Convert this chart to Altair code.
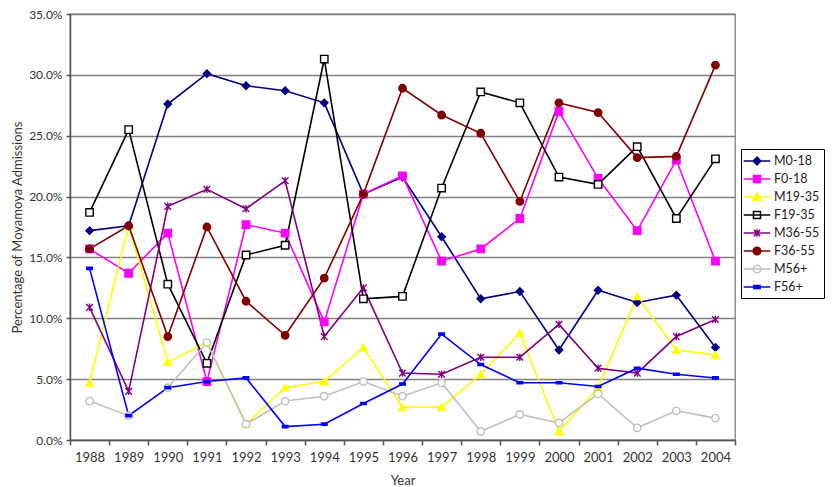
import altair as alt
import pandas as pd

years = [str(y) for y in range(1988, 2005)]
series = ["M0-18", "F0-18", "M19-35", "F19-35", "M36-55", "F36-55", "M56+", "F56+"]

m0_18 = [17.2, 17.6, 27.6, 30.1, 29.1, 28.7, 27.7, 20.2, 21.6, 16.7, 11.6, 12.2, 7.4, 12.3, 11.3, 11.9, 7.6]
f0_18 = [15.7, 13.7, 17.0, 4.8, 17.7, 17.0, 9.7, 20.2, 21.7, 14.7, 15.7, 18.2, 27.0, 21.5, 17.2, 23.0, 14.7]
m19_35 = [4.7, 17.6, 6.4, 8.0, 1.3, 4.3, 4.8, 7.6, 2.7, 2.7, 5.4, 8.8, 0.7, 4.3, 11.8, 7.4, 7.0]
f19_35 = [18.7, 25.5, 12.8, 6.3, 15.2, 16.0, 31.3, 11.6, 11.8, 20.7, 28.6, 27.7, 21.6, 21.0, 24.1, 18.2, 23.1]
m36_55 = [10.9, 4.0, 19.2, 20.6, 19.0, 21.3, 8.5, 12.5, 5.5, 5.4, 6.8, 6.8, 9.5, 5.9, 5.5, 8.5, 9.9]
f36_55 = [15.7, 17.6, 8.5, 17.5, 11.4, 8.6, 13.3, 20.2, 28.9, 26.7, 25.2, 19.6, 27.7, 26.9, 23.2, 23.3, 30.8]
m56 = [3.2, 2.0, 4.3, 8.0, 1.3, 3.2, 3.6, 4.8, 3.6, 4.7, 0.7, 2.1, 1.4, 3.8, 1.0, 2.4, 1.8]
f56 = [14.1, 2.0, 4.3, 4.8, 5.1, 1.1, 1.3, 3.0, 4.6, 8.7, 6.2, 4.7, 4.7, 4.4, 5.9, 5.4, 5.1]

all_values = [m0_18, f0_18, m19_35, f19_35, m36_55, f36_55, m56, f56]

stroke_colors = ["#000080", "#FF00FF", "#FFFF00", "#000000", "#800080", "#800000", "#C0C0C0", "#0000FF"]
fill_colors = ["#000080", "#FF00FF", "#FFFF00", "#FFFFFF", "#800080", "#800000", "#FFFFFF", "#0000FF"]

rows = []
for s, vals in zip(series, all_values):
    for y, v in zip(years, vals):
        rows.append({"Year": y, "series": s, "pct": v / 100.0})
df = pd.DataFrame(rows)

# plot marker shapes
asterisk = "M-0.9,-0.9L0.9,0.9M-0.9,0.9L0.9,-0.9M0,-1L0,1"
dash = "M-0.75,-0.3L0.75,-0.3L0.75,0.3L-0.75,0.3Z"
plot_shapes = ["diamond", "square", "triangle-up", "square", asterisk, "circle", "circle", dash]

# legend symbols: line + marker
L = "M-1.9,0L1.9,0"
leg_shapes = [
    L + "M0,-0.55L0.55,0L0,0.55L-0.55,0Z",
    L + "M-0.5,-0.5L0.5,-0.5L0.5,0.5L-0.5,0.5Z",
    L + "M0,-0.6L0.6,0.45L-0.6,0.45Z",
    L + "M-0.5,-0.5L0.5,-0.5L0.5,0.5L-0.5,0.5Z",
    L + "M-0.45,-0.45L0.45,0.45M-0.45,0.45L0.45,-0.45M0,-0.55L0,0.55",
    L + "M0.55,0A0.55,0.55,0,1,1,-0.55,0A0.55,0.55,0,1,1,0.55,0Z",
    L + "M0.55,0A0.55,0.55,0,1,1,-0.55,0A0.55,0.55,0,1,1,0.55,0Z",
    L + "M-0.45,-0.2L0.45,-0.2L0.45,0.2L-0.45,0.2Z",
]

x_enc = alt.X(
    "Year:O",
    scale=alt.Scale(type="band", paddingInner=0, paddingOuter=0),
    bandPosition=0.5,
    axis=alt.Axis(
        title="Year", labelAngle=0, tickBand="extent", grid=False,
        labelFontSize=13, labelColor="#333333", titleFontSize=13,
        titleFontWeight="normal", titleColor="#333333",
        domainColor="#555555", domainWidth=1.5, tickColor="#555555",
        tickWidth=1.5, tickSize=5, labelPadding=6, titlePadding=10,
    ),
)
y_enc = alt.Y(
    "pct:Q",
    scale=alt.Scale(domain=[0, 0.35], nice=False),
    axis=alt.Axis(
        title="Percentage of Moyamoya Admissions", format=".1%",
        values=[0, 0.05, 0.10, 0.15, 0.20, 0.25, 0.30, 0.35],
        grid=True, gridColor="#808080", gridWidth=1.3,
        labelFontSize=12, labelColor="#333333", titleFontSize=13,
        titleFontWeight="normal", titleColor="#333333",
        domainColor="#555555", domainWidth=1.5, tickColor="#555555",
        tickWidth=1.5, tickSize=4, labelPadding=4, titlePadding=4,
    ),
)

stroke_scale = alt.Scale(domain=series, range=stroke_colors)
fill_scale = alt.Scale(domain=series, range=fill_colors)

lines = alt.Chart(df).mark_line(strokeWidth=1.6).encode(
    x=x_enc, y=y_enc,
    stroke=alt.Stroke("series:N", scale=stroke_scale, legend=None),
)

points = alt.Chart(df).mark_point(filled=False, opacity=1, size=55, strokeWidth=1.4).encode(
    x=x_enc, y=y_enc,
    stroke=alt.Stroke("series:N", scale=stroke_scale, legend=None),
    fill=alt.Fill("series:N", scale=fill_scale, legend=None),
    shape=alt.Shape("series:N", scale=alt.Scale(domain=series, range=plot_shapes), legend=None),
)

leg = alt.Legend(
    title=None, orient="none", legendX=671, legendY=135,
    symbolSize=196, symbolStrokeWidth=1.5, symbolOpacity=1,
    symbolOffset=4, labelOffset=9, labelFontSize=12.5, labelColor="#222222",
    rowPadding=3, padding=4, strokeColor="#000000", fillColor="#FFFFFF",
)

legend_layer = alt.Chart(df).mark_point(opacity=0, size=196).encode(
    x=x_enc, y=y_enc,
    stroke=alt.Stroke("series:N", scale=stroke_scale, legend=leg),
    fill=alt.Fill("series:N", scale=fill_scale, legend=leg),
    shape=alt.Shape("series:N", scale=alt.Scale(domain=series, range=leg_shapes), legend=leg),
)

chart = alt.layer(lines, points, legend_layer).resolve_scale(
    stroke="independent", fill="independent", shape="independent"
).properties(
    width=665, height=426,
    autosize=alt.AutoSizeParams(type="none"),
    padding={"left": 62, "top": 6, "right": 90, "bottom": 46},
).configure(font="Lato").configure_view(stroke="#808080", strokeWidth=1.3)

chart.save("out.html", embed_options={"renderer": "svg", "actions": False})
